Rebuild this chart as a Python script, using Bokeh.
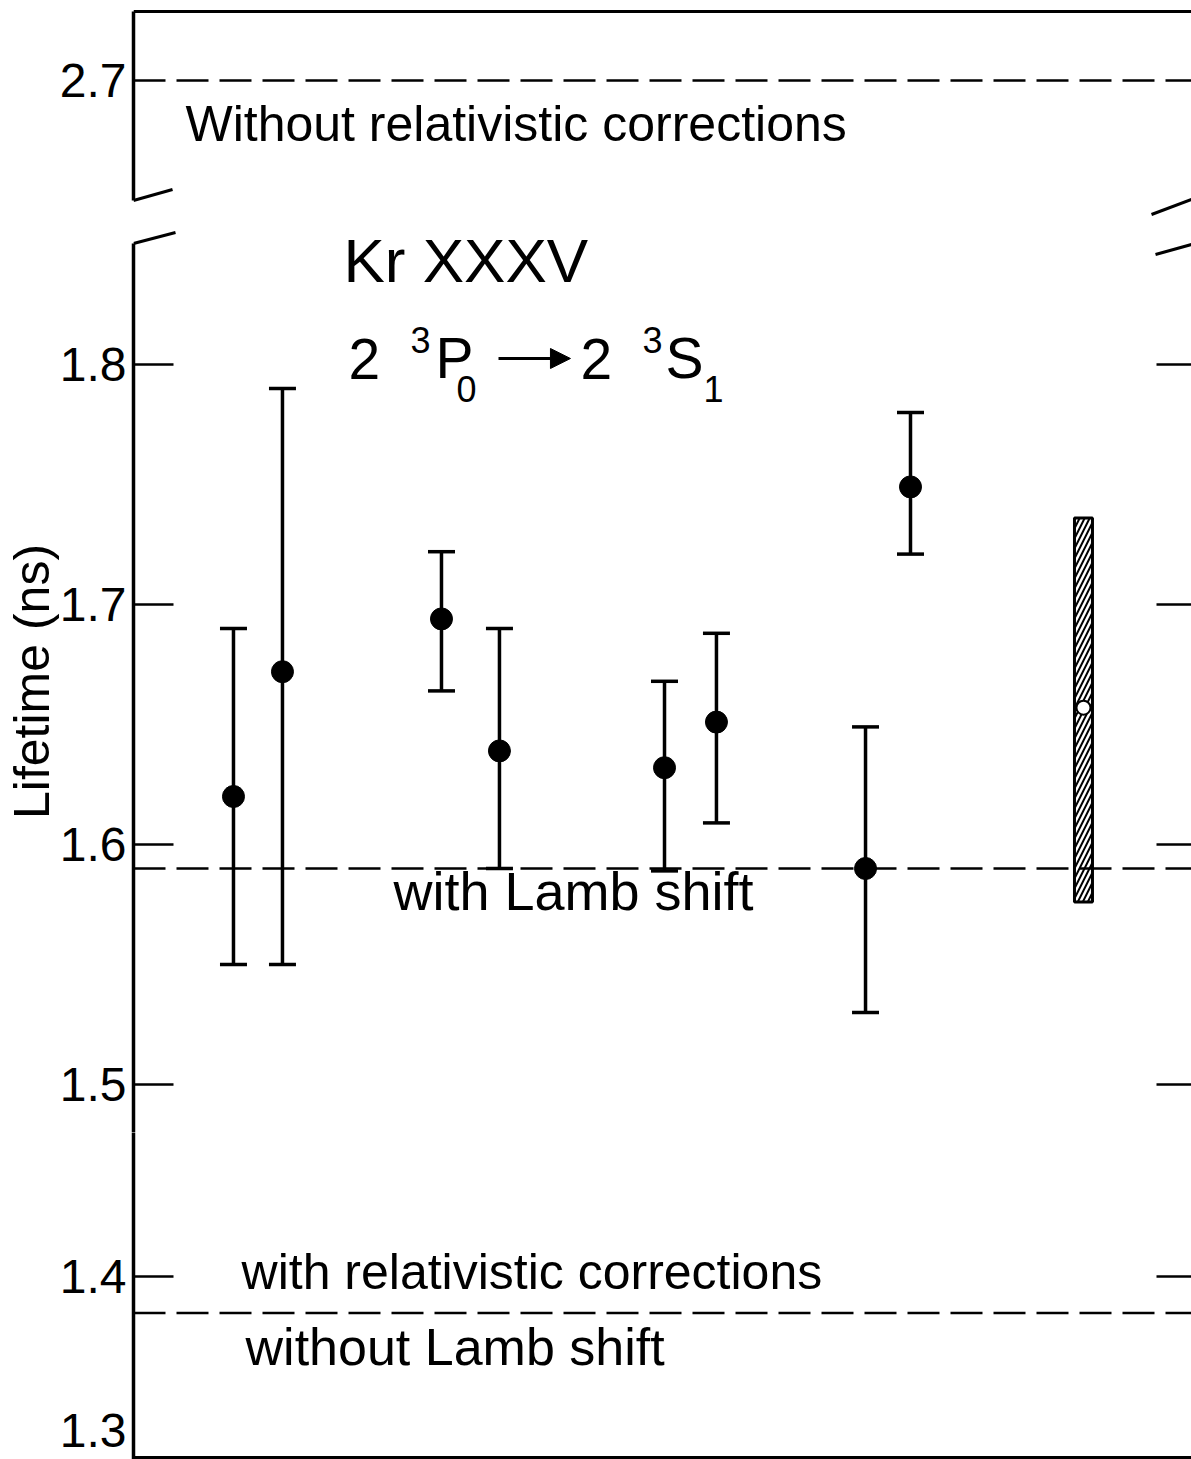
from bokeh.plotting import figure
from bokeh.models import (Range1d, Span, Whisker, TeeHead, ColumnDataSource, Label,
                          LinearAxis, FixedTicker, Arrow, NormalHead)
from bokeh.layouts import column
from bokeh.embed import file_html
from bokeh.resources import INLINE

# ---------------- data ----------------
x_pos = [0.945, 1.408, 2.911, 3.459, 5.019, 5.510, 6.919, 7.344]
lifetime = [1.620, 1.672, 1.694, 1.639, 1.632, 1.651, 1.590, 1.749]
err_upper = [1.690, 1.790, 1.722, 1.690, 1.668, 1.688, 1.649, 1.780]
err_lower = [1.550, 1.550, 1.664, 1.590, 1.589, 1.609, 1.530, 1.721]

theory_x = [8.979]
theory_value = [1.657]
theory_upper = [1.736]
theory_lower = [1.576]

level_no_rel = 2.70      # without relativistic corrections
level_lamb = 1.59        # with Lamb shift
level_rel_no_lamb = 1.38 # with relativistic corrections, without Lamb shift

upper_ticks = [2.7]
middle_ticks = [1.5, 1.6, 1.7, 1.8]
lower_ticks = [1.4]
bottom_label_text = "1.3"
bottom_label_pos = 1.315   # the "1.3" label sits just above the bottom axis

title_line1 = "Kr XXXV"
label_no_rel = "Without relativistic corrections"
label_lamb = "with Lamb shift"
label_rel_1 = "with relativistic corrections"
label_rel_2 = "without Lamb shift"
y_label = "Lifetime (ns)"

FONT = "Liberation Sans"
TICK_FONT = "48px"
TICK_STANDOFF = 7
W = 1191
LEFT = 133


def base_fig(height, yr, top, bottom):
    p = figure(width=W, height=height, x_range=Range1d(0, 10), y_range=yr,
               output_backend="svg", toolbar_location=None,
               min_border_left=LEFT, min_border_right=0,
               min_border_top=top, min_border_bottom=bottom)
    p.xaxis.visible = False
    p.xgrid.visible = False
    p.ygrid.visible = False
    p.outline_line_color = None
    p.background_fill_color = "white"
    p.border_fill_color = "white"
    return p


def style_left(p, ticks, tick_len, bounds="auto", labels=True):
    ax = p.yaxis[0]
    ax.ticker = FixedTicker(ticks=ticks)
    ax.bounds = bounds
    ax.major_tick_in = tick_len
    ax.major_tick_out = 0
    ax.minor_tick_line_color = None
    ax.axis_line_width = 3.5
    ax.axis_line_color = "black"
    ax.major_tick_line_width = 2.5
    ax.major_tick_line_color = "black"
    if labels:
        ax.major_label_text_font = FONT
        ax.major_label_text_font_size = TICK_FONT
        ax.major_label_text_color = "black"
        ax.major_label_standoff = TICK_STANDOFF
    else:
        ax.major_label_text_font_size = "0px"
        ax.major_label_text_color = None
        ax.major_label_standoff = 0
    return ax


def add_right(p, ticks):
    ax = LinearAxis(ticker=FixedTicker(ticks=ticks), major_tick_in=35, major_tick_out=0,
                    axis_line_color=None, minor_tick_line_color=None,
                    major_tick_line_width=2.5, major_tick_line_color="black",
                    major_label_text_font_size="0px", major_label_text_color=None,
                    major_label_standoff=0)
    p.add_layout(ax, "right")


def label(p, x, y, text, size):
    p.add_layout(Label(x=x, y=y, text=text, text_font=FONT, text_font_size=size,
                       text_color="black", text_baseline="alphabetic", text_align="left"))


def brk(p, x0, y0, x1, y1):
    p.add_layout(Arrow(x_start=x0, y_start=y0, x_end=x1, y_end=y1, end=None,
                       line_width=3, line_color="black"))


dash = "32 11"

# ---------------- top panel (2.7) ----------------
top = base_fig(220, Range1d(2.643333, 2.729583), 9, 4)
style_left(top, upper_ticks, 0, bounds=(2.65, 2.72875))
top.add_layout(Span(location=2.72875, dimension="width", line_color="black", line_width=3))
top.add_layout(Span(location=level_no_rel, dimension="width", line_color="black",
                    line_width=2.5, line_dash=dash))
label(top, 0.491, 2.681771, label_no_rel, "50px")
brk(top, 0.0, 2.65, 0.369, 2.654583)
brk(top, 9.622, 2.644167, 10.0, 2.650417)

# ---------------- middle panel (1.48 - 1.85) ----------------
mid = base_fig(912, Range1d(1.48, 1.855833), 10, 0)
ax_mid = style_left(mid, middle_ticks, 40, bounds=(1.48, 1.850417))
ax_mid.axis_label = y_label
ax_mid.axis_label_text_font = FONT
ax_mid.axis_label_text_font_size = "50px"
ax_mid.axis_label_text_font_style = "normal"
ax_mid.axis_label_text_color = "black"
ax_mid.axis_label_standoff = -3
add_right(mid, middle_ticks)
mid.add_layout(Span(location=level_lamb, dimension="width", line_color="black",
                    line_width=2.5, line_dash=dash))

src = ColumnDataSource(dict(x=x_pos, y=lifetime, upper=err_upper, lower=err_lower))
mid.add_layout(Whisker(base="x", upper="upper", lower="lower", source=src,
                       line_width=3.5, line_color="black",
                       upper_head=TeeHead(size=27, line_width=3.5, line_color="black"),
                       lower_head=TeeHead(size=27, line_width=3.5, line_color="black")))
mid.scatter("x", "y", source=src, size=22, fill_color="black", line_color="black")

tsrc = ColumnDataSource(dict(x=theory_x, y=theory_value, upper=theory_upper, lower=theory_lower))
mid.vbar(x="x", bottom="lower", top="upper", width=0.17, source=tsrc,
         fill_color="white", line_color="black", line_width=3,
         hatch_pattern="/", hatch_color="black", hatch_weight=2, hatch_scale=10)
mid.scatter("x", "y", source=tsrc, size=14, fill_color="white", line_color="black",
            line_width=2)

label(mid, 1.985, 1.843167, title_line1, "62px")
label(mid, 2.032, 1.802417, "2", "57px")
label(mid, 2.618, 1.810042, "3", "36px")
label(mid, 2.854, 1.802833, "P", "57px")
label(mid, 3.053, 1.789625, "0", "36px")
mid.add_layout(Arrow(x_start=3.450, y_start=1.8025, x_end=4.130, y_end=1.8025,
                     line_width=3, line_color="black",
                     end=NormalHead(size=20, fill_color="black", line_color="black")))
label(mid, 4.225, 1.802417, "2", "57px")
label(mid, 4.811, 1.810042, "3", "36px")
label(mid, 5.028, 1.802833, "S", "57px")
label(mid, 5.388, 1.789625, "1", "36px")

label(mid, 2.457, 1.580708, label_lamb, "54px")

brk(mid, 0.0, 1.850417, 0.397, 1.855)
brk(mid, 9.660, 1.845833, 10.0, 1.85)

# ---------------- bottom panel (1.3 - 1.48) ----------------
bot = base_fig(327, Range1d(1.298892, 1.48), 0, 0)
style_left(bot, lower_ticks, 40, labels=False)
bot_labels = LinearAxis(ticker=FixedTicker(ticks=[bottom_label_pos] + lower_ticks),
                        major_label_overrides={bottom_label_pos: bottom_label_text},
                        axis_line_color=None, major_tick_line_color=None,
                        minor_tick_line_color=None, major_tick_in=0, major_tick_out=0,
                        major_label_text_font=FONT, major_label_text_font_size=TICK_FONT,
                        major_label_text_color="black", major_label_standoff=TICK_STANDOFF)
bot.add_layout(bot_labels, "left")
add_right(bot, lower_ticks)
bot.add_layout(Span(location=1.3, dimension="width", line_color="black", line_width=3))
bot.add_layout(Span(location=level_rel_no_lamb, dimension="width", line_color="black",
                    line_width=2.5, line_dash=dash))
label(bot, 1.021, 1.402597, label_rel_1, "50px")
label(bot, 1.059, 1.361475, label_rel_2, "52px")

layout = column(top, mid, bot, spacing=0)
open("out.html", "w").write(file_html(layout, INLINE))
